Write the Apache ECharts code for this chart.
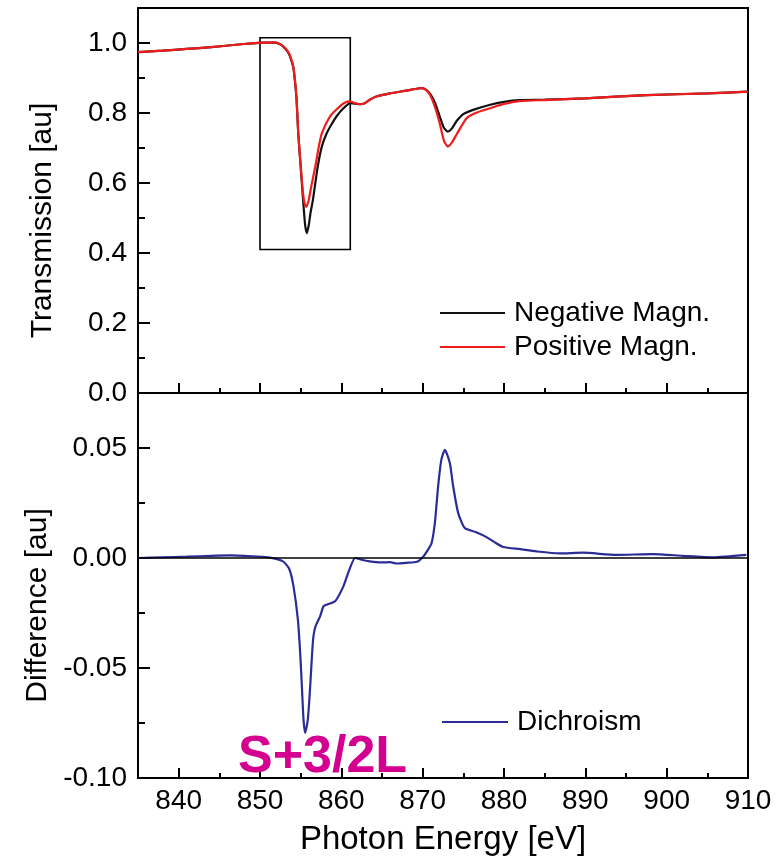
<!DOCTYPE html>
<html>
<head>
<meta charset="utf-8">
<script src="https://cdn.jsdelivr.net/npm/echarts@6/dist/echarts.min.js"></script>
<style>
html,body{margin:0;padding:0;background:#fff;}
#chart{width:783px;height:867px;}
</style>
</head>
<body>
<div id="chart"></div>
<script>
// ---- Data ----
const negEnergy = [835,838,841,844,847,849,850.5,851.7,852.4,852.9,853.4,853.7,854.1,854.3,854.5,854.7,855.0,855.3,855.55,855.76,856.0,856.2,856.5,857.1,857.6,858.2,858.8,859.4,860.2,861.1,861.7,862.3,862.8,863.5,864.3,866.0,868.0,869.4,869.9,870.4,870.9,871.5,872.1,872.6,873.1,873.6,874.2,875.0,876.2,878.2,880.0,881.9,885,890,897.5,905,910];
const negTrans = [0.974,0.978,0.983,0.988,0.995,0.999,1.001,1.001,0.997,0.989,0.975,0.961,0.930,0.890,0.837,0.742,0.647,0.551,0.480,0.457,0.480,0.513,0.551,0.647,0.704,0.742,0.768,0.790,0.812,0.828,0.827,0.825,0.827,0.838,0.847,0.856,0.864,0.870,0.871,0.867,0.855,0.830,0.790,0.758,0.747,0.756,0.778,0.797,0.809,0.823,0.832,0.837,0.838,0.842,0.851,0.856,0.861];

const posEnergy = [835,838,841,844,847,849,850.5,851.7,852.4,852.9,853.4,853.7,854.1,854.3,854.5,854.7,855.0,855.3,855.5,855.7,856.0,856.3,856.8,857.2,857.6,858.6,859.4,860.3,861.0,861.7,862.3,862.8,863.5,864.3,866.0,868.0,869.4,869.9,870.4,870.9,871.5,872.1,872.6,873.1,873.6,874.2,875.4,876.5,878.2,880.0,881.9,885,890,897.5,905,910];
const posTrans = [0.974,0.978,0.983,0.988,0.995,0.999,1.001,1.002,0.998,0.990,0.977,0.963,0.932,0.893,0.840,0.745,0.650,0.568,0.540,0.532,0.552,0.590,0.647,0.700,0.742,0.790,0.810,0.828,0.833,0.828,0.825,0.827,0.838,0.847,0.856,0.864,0.870,0.871,0.866,0.852,0.818,0.770,0.722,0.704,0.716,0.740,0.785,0.800,0.813,0.826,0.834,0.837,0.842,0.851,0.856,0.861];

const dichEnergy = [835,838,841,844,846.3,849,851,852.1,852.9,853.6,854.12,854.66,854.94,855.15,855.35,855.55,855.88,856.17,856.41,856.57,856.82,857.39,857.80,858.21,859.23,860.25,860.99,861.69,862.5,863.5,864.8,866.0,866.8,868.0,869.3,870.06,870.7,871.1,871.5,871.9,872.3,872.73,873.34,873.75,874.36,875.18,876.5,877.85,879.0,879.9,882,884,886.8,889.7,893.8,898.3,902,905.7,909.8];
const dichDiff = [0.0000,0.0003,0.0006,0.0010,0.0012,0.0008,0.0003,-0.0005,-0.0017,-0.0050,-0.0129,-0.0280,-0.0432,-0.0584,-0.0735,-0.0795,-0.0735,-0.0584,-0.0432,-0.0356,-0.0311,-0.0265,-0.0220,-0.0212,-0.0197,-0.0129,-0.0053,0.0000,-0.0008,-0.0015,-0.0020,-0.0019,-0.0025,-0.0022,-0.0017,0.0006,0.0040,0.0068,0.0160,0.0326,0.0447,0.0492,0.0432,0.0326,0.0205,0.0136,0.0118,0.0095,0.0068,0.0050,0.0040,0.0030,0.0021,0.0024,0.0014,0.0018,0.0010,0.0003,0.0014];

// Tick values
const xMajorTicks = [840,850,860,870,880,890,900,910];
const xMinorTicks = [845,855,865,875,885,895,905];
const yTopMajorTicks = [0,0.2,0.4,0.6,0.8,1.0];
const yTopMinorTicks = [0.1,0.3,0.5,0.7,0.9];
const yBotMajorTicks = [-0.10,-0.05,0.00,0.05];
const yBotMinorTicks = [-0.075,-0.025,0.025];

// Highlight box corners (energy, transmission)
const boxEnergy = [850.0, 861.1];
const boxTrans = [1.015, 0.41];

const seriesNames = ['Negative Magn.','Positive Magn.','Dichroism'];
const annotationText = 'S+3/2L';

// ---- Chart ----
const FONT = 'Liberation Sans, Arial, sans-serif';
const zip = (xs, ys) => xs.map((x, i) => [x, ys[i]]);
const chart = echarts.init(document.getElementById('chart'), null, {renderer: 'canvas'});

const X_MIN = 835, X_MAX = 910;
const black = '#000';

function xAxisDef(gridIndex, ticks, len, withLabels) {
  const a = {
    type: 'value', gridIndex: gridIndex, min: X_MIN, max: X_MAX, position: 'bottom',
    axisLine: {show: true, onZero: false, lineStyle: {color: black, width: 2}},
    axisTick: {show: true, inside: true, length: len, customValues: ticks, lineStyle: {color: black, width: 2}},
    axisLabel: {show: false},
    splitLine: {show: false}
  };
  if (withLabels) {
    a.axisLabel = {show: true, customValues: ticks, color: black, fontSize: 28, fontFamily: FONT, margin: 9,
      formatter: v => String(Math.round(v))};
    a.name = 'Photon Energy [eV]';
    a.nameLocation = 'middle';
    a.nameGap = 45;
    a.nameTextStyle = {color: black, fontSize: 33, fontFamily: FONT};
  }
  return a;
}

function yAxisDef(gridIndex, min, max, ticks, len, labelDigits, name) {
  const a = {
    type: 'value', gridIndex: gridIndex, min: min, max: max, position: 'left',
    axisLine: {show: true, onZero: false, lineStyle: {color: black, width: 2}},
    axisTick: {show: true, inside: true, length: len, customValues: ticks, lineStyle: {color: black, width: 2}},
    axisLabel: {show: false},
    splitLine: {show: false}
  };
  if (labelDigits !== null) {
    a.axisLabel = {show: true, customValues: ticks, color: black, fontSize: 28, fontFamily: FONT, margin: 11,
      formatter: v => v.toFixed(labelDigits)};
    a.name = name;
    a.nameLocation = 'middle';
    a.nameGap = 80;
    a.nameTextStyle = {color: black, fontSize: 30, fontFamily: FONT, padding: [0, 40, 0, 0]};
  }
  return a;
}

const legendText = {color: black, fontSize: 28, fontFamily: FONT, padding: [0, 0, 0, 4]};

const option = {
  backgroundColor: '#fff',
  animation: false,
  title: {
    text: annotationText, left: 233, top: 727,
    textStyle: {color: '#d4008f', fontSize: 52, fontWeight: 'bold', fontFamily: FONT}
  },
  grid: [
    {left: 138, top: 8, width: 610, height: 385, show: true, borderColor: black, borderWidth: 2, backgroundColor: 'transparent'},
    {left: 138, top: 393, width: 610, height: 385, show: true, borderColor: black, borderWidth: 2, backgroundColor: 'transparent'}
  ],
  legend: [
    {data: [seriesNames[0], seriesNames[1]], orient: 'vertical', left: 435, top: 294, itemGap: 6,
     icon: 'rect', itemWidth: 65, itemHeight: 2, textStyle: legendText},
    {data: [seriesNames[2]], orient: 'vertical', left: 437, top: 703,
     icon: 'rect', itemWidth: 66, itemHeight: 2, textStyle: legendText}
  ],
  xAxis: [
    xAxisDef(0, xMinorTicks, 5, false),
    xAxisDef(0, xMajorTicks, 10, false),
    xAxisDef(1, xMinorTicks, 5, false),
    xAxisDef(1, xMajorTicks, 10, true)
  ],
  yAxis: [
    yAxisDef(0, 0, 1.1, yTopMinorTicks, 7, null),
    yAxisDef(0, 0, 1.1, yTopMajorTicks, 12, 1, 'Transmission [au]'),
    yAxisDef(1, -0.10, 0.075, yBotMinorTicks, 7, null),
    yAxisDef(1, -0.10, 0.075, yBotMajorTicks, 12, 2, 'Difference [au]')
  ],
  series: [
    {
      name: seriesNames[0], type: 'line', xAxisIndex: 1, yAxisIndex: 1,
      data: zip(negEnergy, negTrans), showSymbol: false, symbol: 'none', smooth: 0.2,
      lineStyle: {color: '#111', width: 2.2}, itemStyle: {color: '#111'},
      markArea: {
        silent: true,
        itemStyle: {color: 'rgba(0,0,0,0)', borderColor: black, borderWidth: 1.6},
        data: [[{xAxis: boxEnergy[0], yAxis: boxTrans[0]}, {xAxis: boxEnergy[1], yAxis: boxTrans[1]}]]
      }
    },
    {
      name: seriesNames[1], type: 'line', xAxisIndex: 1, yAxisIndex: 1,
      data: zip(posEnergy, posTrans), showSymbol: false, symbol: 'none', smooth: 0.2,
      lineStyle: {color: '#f21b1b', width: 2.2}, itemStyle: {color: '#f21b1b'}
    },
    {
      name: seriesNames[2], type: 'line', xAxisIndex: 3, yAxisIndex: 3,
      data: zip(dichEnergy, dichDiff), showSymbol: false, symbol: 'none', smooth: 0.2,
      lineStyle: {color: '#2c2c96', width: 2.2}, itemStyle: {color: '#2c2c96'},
      markLine: {
        silent: true, symbol: 'none', label: {show: false},
        lineStyle: {color: black, width: 1.6, type: 'solid'},
        data: [{yAxis: 0}]
      }
    }
  ]
};
chart.setOption(option);
</script>
</body>
</html>
